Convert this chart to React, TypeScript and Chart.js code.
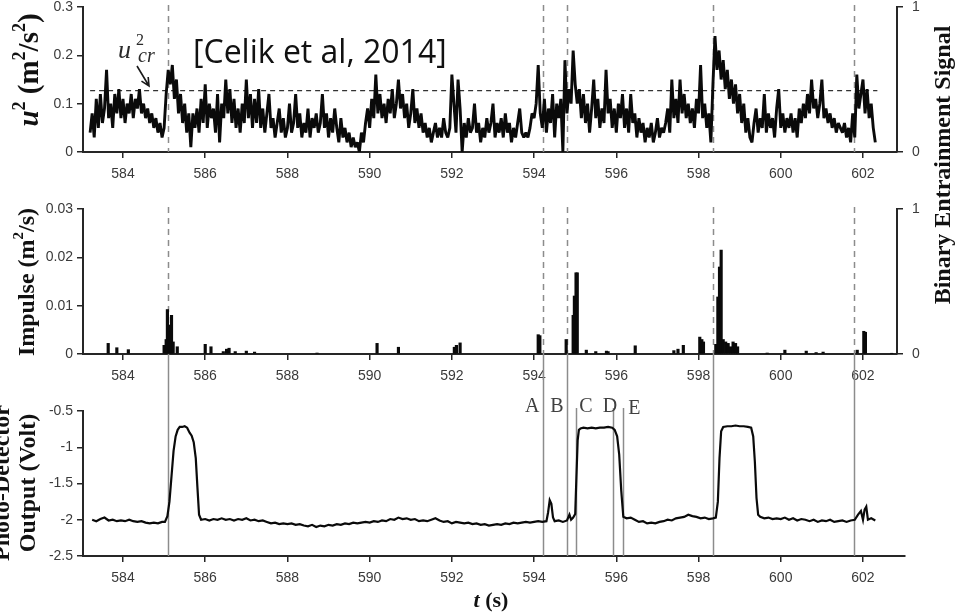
import React, { useEffect, useRef } from "react";
import { Chart, registerables } from "chart.js";

Chart.register(...registerables);

// ---------------- data ----------------
const T_TICKS = [584, 586, 588, 590, 592, 594, 596, 598, 600, 602];
const U2_TICKS = [0, 0.1, 0.2, 0.3];
const IMPULSE_TICKS = [0, 0.01, 0.02, 0.03];
const VOLT_TICKS = [-2.5, -2, -1.5, -1, -0.5];
const BINARY_TICKS = [0, 1];

// squared near-bed velocity, sampled every 0.05 s from 583.2 s
const U2_START = 583.2;
const U2_STEP = 0.05;
const U2_VALUES = [
  0.04, 0.08, 0.03, 0.11, 0.05, 0.12, 0.06, 0.09, 0.17, 0.07, 0.10, 0.05, 0.12, 0.08, 0.13, 0.07, 0.11, 0.06, 0.10, 0.08,
  0.12, 0.07, 0.11, 0.09, 0.13, 0.08, 0.10, 0.07, 0.09, 0.06, 0.08, 0.05, 0.07, 0.04, 0.06, 0.03, 0.05, 0.12, 0.17, 0.14,
  0.18, 0.11, 0.15, 0.08, 0.12, 0.06, 0.10, 0.04, 0.08, 0.01, 0.08, 0.05, 0.09, 0.04, 0.11, 0.06, 0.14, 0.05, 0.10, 0.07,
  0.09, 0.04, 0.12, 0.02, 0.10, 0.07, 0.15, 0.08, 0.13, 0.06, 0.11, 0.05, 0.09, 0.04, 0.10, 0.06, 0.15, 0.07, 0.12, 0.05,
  0.11, 0.06, 0.13, 0.05, 0.09, 0.04, 0.08, 0.12, 0.05, 0.07, 0.03, 0.06, 0.09, 0.04, 0.07, 0.03, 0.05, 0.10, 0.04, 0.06,
  0.12, 0.05, 0.08, 0.03, 0.06, 0.04, 0.09, 0.03, 0.07, 0.05, 0.08, 0.04, 0.06, 0.12, 0.05, 0.08, 0.03, 0.07, 0.04, 0.09,
  0.05, 0.02, 0.07, 0.03, 0.05, 0.02, 0.04, 0.01, 0.03, 0.01, 0.02, 0.00, 0.04, 0.02, 0.06, 0.09, 0.05, 0.11, 0.07, 0.16,
  0.08, 0.12, 0.07, 0.10, 0.06, 0.11, 0.08, 0.13, 0.07, 0.10, 0.15, 0.09, 0.12, 0.07, 0.10, 0.05, 0.08, 0.13, 0.06, 0.09,
  0.05, 0.08, 0.04, 0.06, 0.03, 0.05, 0.02, 0.04, 0.06, 0.03, 0.05, 0.03, 0.07, 0.04, 0.03, 0.05, 0.16, 0.10, 0.04, 0.15,
  0.09, 0.00, 0.06, 0.03, 0.07, 0.04, 0.05, 0.10, 0.04, 0.06, 0.02, 0.05, 0.03, 0.07, 0.04, 0.06, 0.10, 0.03, 0.06, 0.04,
  0.07, 0.03, 0.08, 0.04, 0.06, 0.02, 0.05, 0.03, 0.06, 0.09, 0.04, 0.03, 0.04, 0.03, 0.05, 0.08, 0.07, 0.10, 0.18, 0.08,
  0.05, 0.11, 0.04, 0.09, 0.06, 0.12, 0.03, 0.10, 0.07, 0.11, 0.00, 0.19, 0.08, 0.13, 0.10, 0.21, 0.14, 0.10, 0.13, 0.07,
  0.12, 0.06, 0.10, 0.04, 0.09, 0.15, 0.07, 0.11, 0.05, 0.09, 0.06, 0.17, 0.08, 0.11, 0.05, 0.09, 0.04, 0.10, 0.07, 0.12,
  0.05, 0.09, 0.04, 0.12, 0.06, 0.08, 0.03, 0.07, 0.04, 0.06, 0.02, 0.05, 0.03, 0.06, 0.02, 0.04, 0.07, 0.03, 0.05, 0.04,
  0.06, 0.09, 0.04, 0.15, 0.07, 0.11, 0.06, 0.15, 0.08, 0.12, 0.07, 0.10, 0.06, 0.09, 0.05, 0.11, 0.08, 0.18, 0.07, 0.10,
  0.05, 0.08, 0.02, 0.14, 0.24, 0.17, 0.21, 0.15, 0.19, 0.13, 0.17, 0.11, 0.15, 0.10, 0.14, 0.08, 0.12, 0.06, 0.10, 0.04,
  0.07, 0.03, 0.02, 0.06, 0.09, 0.04, 0.07, 0.05, 0.12, 0.04, 0.08, 0.05, 0.07, 0.03, 0.09, 0.13, 0.05, 0.08, 0.04, 0.07,
  0.05, 0.08, 0.04, 0.07, 0.03, 0.09, 0.06, 0.10, 0.07, 0.12, 0.08, 0.15, 0.09, 0.11, 0.07, 0.10, 0.15, 0.07, 0.09, 0.06,
  0.08, 0.05, 0.07, 0.04, 0.06, 0.05, 0.04, 0.06, 0.03, 0.05, 0.02, 0.08, 0.03, 0.16, 0.09, 0.12, 0.15, 0.08, 0.13, 0.07,
  0.10, 0.05, 0.02,
];
const U2_CRITICAL = 0.127;

// impulse above the critical level: [time (s), impulse (m^2/s)]
const IMPULSE: [number, number][] = [
  [583.64, 0.0022], [583.85, 0.0013], [584.13, 0.0009],
  [585.0, 0.0018], [585.05, 0.003], [585.08, 0.0092], [585.11, 0.006], [585.14, 0.0045],
  [585.18, 0.008], [585.22, 0.0025], [585.32, 0.0015],
  [586.0, 0.002], [586.14, 0.0015], [586.44, 0.0005], [586.52, 0.001], [586.58, 0.0012],
  [586.73, 0.0005], [587.0, 0.0006], [587.2, 0.0004], [588.72, 0.0002],
  [590.18, 0.0022], [590.7, 0.0014], [592.06, 0.0014], [592.11, 0.0018], [592.2, 0.0023],
  [594.1, 0.004], [594.14, 0.0038], [594.78, 0.003],
  [594.95, 0.008], [594.98, 0.012], [595.02, 0.0168], [595.05, 0.0168],
  [595.27, 0.0008], [595.5, 0.0005], [595.76, 0.0006], [595.8, 0.0005], [596.46, 0.0017],
  [597.4, 0.0007], [597.5, 0.001], [597.63, 0.0018],
  [598.03, 0.0035], [598.08, 0.003], [598.12, 0.0025],
  [598.42, 0.002], [598.47, 0.0118], [598.51, 0.018], [598.55, 0.0215], [598.6, 0.003],
  [598.66, 0.0025], [598.72, 0.0022], [598.78, 0.0015], [598.84, 0.0025], [598.9, 0.0022], [598.95, 0.0015],
  [599.67, 0.0002], [600.1, 0.0008], [600.62, 0.0006], [600.86, 0.0003], [601.03, 0.0004],
  [601.86, 0.0008], [602.02, 0.0047], [602.06, 0.0045], [602.7, 0.0001],
];

// photo-detector output: [time (s), volt]
const PHOTO_DETECTOR: [number, number][] = [
  [583.25, -2.0], [583.35, -2.02], [583.45, -1.99], [583.55, -1.97], [583.65, -2.01], [583.75, -2.0],
  [583.85, -2.02], [583.95, -2.01], [584.05, -2.02], [584.15, -2.0], [584.25, -2.02], [584.35, -2.03],
  [584.45, -2.02], [584.55, -2.04], [584.65, -2.05], [584.75, -2.04], [584.85, -2.05], [584.95, -2.03],
  [585.02, -2.03], [585.08, -1.95], [585.13, -1.75], [585.18, -1.4], [585.23, -1.05], [585.28, -0.85],
  [585.33, -0.76], [585.38, -0.72], [585.44, -0.72], [585.5, -0.71], [585.56, -0.73], [585.62, -0.8],
  [585.67, -0.84], [585.72, -0.93], [585.77, -1.15], [585.81, -1.55], [585.85, -1.93], [585.9, -2.0],
  [586.0, -1.99], [586.1, -2.01], [586.2, -1.99], [586.3, -2.0], [586.4, -1.98], [586.5, -2.0],
  [586.6, -1.99], [586.7, -2.01], [586.8, -1.99], [586.9, -2.0], [587.0, -1.98], [587.1, -2.01],
  [587.2, -2.0], [587.3, -2.02], [587.4, -2.01], [587.5, -2.03], [587.6, -2.05], [587.7, -2.04],
  [587.8, -2.06], [587.9, -2.05], [588.0, -2.06], [588.1, -2.05], [588.2, -2.07], [588.3, -2.06],
  [588.4, -2.08], [588.5, -2.09], [588.6, -2.07], [588.7, -2.1], [588.8, -2.08], [588.9, -2.09],
  [589.0, -2.07], [589.1, -2.08], [589.2, -2.06], [589.3, -2.07], [589.4, -2.05], [589.5, -2.06],
  [589.6, -2.04], [589.7, -2.05], [589.8, -2.04], [589.9, -2.03], [590.0, -2.04], [590.1, -2.02],
  [590.2, -2.03], [590.3, -2.01], [590.4, -2.02], [590.5, -1.99], [590.6, -2.0], [590.7, -1.97],
  [590.8, -1.99], [590.9, -1.98], [591.0, -2.0], [591.1, -1.99], [591.2, -2.02], [591.3, -2.01],
  [591.4, -2.02], [591.5, -2.0], [591.6, -1.98], [591.7, -2.01], [591.8, -2.03], [591.9, -2.02],
  [592.0, -2.05], [592.1, -2.03], [592.2, -2.04], [592.3, -2.05], [592.4, -2.04], [592.5, -2.06],
  [592.6, -2.05], [592.7, -2.07], [592.8, -2.06], [592.9, -2.08], [593.0, -2.07], [593.1, -2.06],
  [593.2, -2.07], [593.3, -2.05], [593.4, -2.06], [593.5, -2.04], [593.6, -2.05], [593.7, -2.04],
  [593.8, -2.03], [593.9, -2.04], [594.0, -2.03], [594.1, -2.02], [594.2, -2.03], [594.3, -2.02],
  [594.34, -1.9], [594.38, -1.73], [594.42, -1.78], [594.46, -1.97], [594.5, -2.02], [594.6, -2.01],
  [594.7, -2.03], [594.8, -2.01], [594.86, -1.93], [594.9, -2.0], [594.95, -1.97], [595.0, -1.92],
  [595.03, -1.4], [595.06, -0.9], [595.09, -0.76], [595.13, -0.74], [595.2, -0.73], [595.3, -0.74],
  [595.4, -0.73], [595.5, -0.74], [595.6, -0.73], [595.7, -0.73], [595.8, -0.72], [595.9, -0.73],
  [595.96, -0.76], [596.02, -0.85], [596.07, -1.1], [596.12, -1.6], [596.17, -1.96], [596.25, -1.98],
  [596.35, -1.97], [596.45, -2.0], [596.55, -2.03], [596.65, -2.02], [596.75, -2.05], [596.85, -2.04],
  [596.95, -2.05], [597.05, -2.03], [597.15, -2.02], [597.25, -2.0], [597.35, -2.01], [597.45, -1.98],
  [597.55, -1.97], [597.65, -1.96], [597.75, -1.93], [597.85, -1.95], [597.95, -1.96], [598.05, -1.98],
  [598.15, -1.97], [598.25, -1.99], [598.35, -1.98], [598.42, -1.97], [598.47, -1.75], [598.51, -1.15],
  [598.55, -0.78], [598.6, -0.72], [598.7, -0.71], [598.8, -0.71], [598.9, -0.7], [599.0, -0.71],
  [599.1, -0.71], [599.2, -0.72], [599.28, -0.73], [599.33, -0.85], [599.37, -1.2], [599.41, -1.7],
  [599.45, -1.93], [599.5, -1.96], [599.6, -1.98], [599.7, -1.97], [599.8, -1.99], [599.9, -1.98],
  [600.0, -1.99], [600.1, -1.97], [600.2, -2.0], [600.3, -1.98], [600.4, -2.01], [600.5, -1.99],
  [600.6, -2.0], [600.7, -2.02], [600.8, -2.0], [600.9, -2.03], [601.0, -2.01], [601.1, -2.02],
  [601.2, -2.0], [601.3, -2.03], [601.4, -2.02], [601.5, -2.01], [601.6, -2.03], [601.7, -2.01],
  [601.8, -2.0], [601.88, -1.93], [601.95, -1.88], [602.0, -2.0], [602.04, -1.86], [602.08, -1.82],
  [602.12, -2.0], [602.2, -1.98], [602.3, -2.01],
];

// binary entrainment onsets and the stages of the second event
const ENTRAINMENT_EVENTS = [585.1, 594.22, 594.8, 598.34, 601.77];
const PHASE_NAMES = ["A", "B", "C", "D", "E"];
const PHASE_TIMES = [594.22, 594.8, 595.02, 595.92, 596.17];

// ---------------- layout ----------------
const PAGE_W = 960;
const PAGE_H = 616;
const SHIFT = 20; // canvases start above the page so the top tick label has room
const CANVAS_H = PAGE_H + SHIFT + 4;
const PLOT_LEFT = 83;
const PLOT_RIGHT = 897;
const PLOT_RIGHT_PHOTO = 905;
const PX_PER_SECOND = 41.11;
const T_MIN = 583.027;
const X_AXIS_H = 34;
const PANEL_H = 145;
const TOP_U2 = 7;
const TOP_IMPULSE = 209;
const TOP_PHOTO = 411;
const PHASE_LABEL_DX = [-11, -10, 10, -3, 11];
const PHASE_LINE_TOP = 408;

const SERIF = '"Liberation Serif", "Times New Roman", serif';
const SANS = '"Liberation Sans", Arial, sans-serif';
const AXIS = "#262626";
const TICK_TEXT = "#3a3a3a";
const MARK_GREY = "#8c8c8c";

type Run = { text: string; font: string; rise?: number };

function drawRuns(ctx: CanvasRenderingContext2D, runs: Run[], x: number, y: number, rotate: boolean, color = "#111") {
  ctx.save();
  ctx.translate(x, y);
  if (rotate) ctx.rotate(-Math.PI / 2);
  ctx.textBaseline = "alphabetic";
  ctx.textAlign = "left";
  ctx.fillStyle = color;
  let total = 0;
  for (const r of runs) {
    ctx.font = r.font;
    total += ctx.measureText(r.text).width;
  }
  let cx = -total / 2;
  for (const r of runs) {
    ctx.font = r.font;
    ctx.fillText(r.text, cx, -(r.rise || 0));
    cx += ctx.measureText(r.text).width;
  }
  ctx.restore();
}

const tickList = (values: number[]) => (scale: any) => {
  scale.ticks = values.map((v) => ({ value: v }));
};

function xAxis(right: number) {
  return {
    type: "linear",
    min: T_MIN,
    max: T_MIN + (right - PLOT_LEFT) / PX_PER_SECOND,
    offset: false,
    afterBuildTicks: tickList(T_TICKS),
    afterFit: (s: any) => {
      s.height = X_AXIS_H;
    },
    grid: { drawOnChartArea: false, drawTicks: true, tickLength: 6, color: AXIS, lineWidth: 1.5, offset: false },
    border: { display: true, color: AXIS, width: 2 },
    ticks: { font: { family: SANS, size: 14 }, color: TICK_TEXT, padding: 8, maxRotation: 0, autoSkip: false, callback: (v: any) => String(v) },
  };
}

function yAxis(position: "left" | "right", min: number, max: number, values: number[]) {
  return {
    type: "linear",
    position,
    min,
    max,
    afterBuildTicks: tickList(values),
    afterFit: (s: any) => {
      s.width = position === "left" ? PLOT_LEFT : PAGE_W - PLOT_RIGHT;
    },
    grid: { drawOnChartArea: false, drawTicks: true, tickLength: 6, color: AXIS, lineWidth: 1.5 },
    border: { display: true, color: AXIS, width: 2 },
    ticks: { font: { family: SANS, size: 14 }, color: TICK_TEXT, padding: position === "left" ? 4 : 9, autoSkip: false, callback: (v: any) => String(v) },
  };
}

function padding(top: number, right: number) {
  const canvasTop = top + SHIFT;
  return {
    top: canvasTop,
    left: 0,
    right: right === PLOT_RIGHT ? 0 : PAGE_W - right,
    bottom: CANVAS_H - (canvasTop + PANEL_H) - X_AXIS_H,
  };
}

const baseOptions = {
  responsive: false,
  animation: false,
  devicePixelRatio: 1,
  events: [],
  plugins: { legend: { display: false }, tooltip: { enabled: false } },
};

// dashed markers of the entrainment onsets inside a panel
const dashedEvents = {
  id: "dashedEvents",
  beforeDatasetsDraw(chart: any) {
    const { ctx, chartArea, scales } = chart;
    ctx.save();
    ctx.strokeStyle = MARK_GREY;
    ctx.lineWidth = 1.5;
    ctx.setLineDash([6, 5]);
    for (const t of ENTRAINMENT_EVENTS) {
      const x = Math.round(scales.x.getPixelForValue(t)) + 0.5;
      ctx.beginPath();
      ctx.moveTo(x, chartArea.top - 2);
      ctx.lineTo(x, chartArea.bottom);
      ctx.stroke();
    }
    ctx.restore();
  },
};

const u2Texts = {
  id: "u2Texts",
  afterDraw(chart: any) {
    const ctx = chart.ctx as CanvasRenderingContext2D;
    // left axis title
    drawRuns(
      ctx,
      [
        { text: "u", font: `italic bold 29px ${SERIF}` },
        { text: "2", font: `bold 18px ${SERIF}`, rise: 13 },
        { text: " (m", font: `bold 29px ${SERIF}` },
        { text: "2", font: `bold 18px ${SERIF}`, rise: 13 },
        { text: "/s", font: `bold 29px ${SERIF}` },
        { text: "2", font: `bold 18px ${SERIF}`, rise: 13 },
        { text: ")", font: `bold 29px ${SERIF}` },
      ],
      38,
      70 + SHIFT,
      true
    );
    // right axis title shared by the two upper panels
    drawRuns(ctx, [{ text: "Binary Entrainment Signal", font: `bold 24px ${SERIF}` }], 950, 165 + SHIFT, true);
    // citation
    ctx.save();
    ctx.font = `32px "Open Sans", ${SANS}`;
    ctx.fillStyle = "#111";
    ctx.textBaseline = "alphabetic";
    ctx.fillText("[Celik et al, 2014]", 193, 63 + SHIFT);
    // critical level label with arrow
    ctx.fillStyle = "#2a2a2a";
    ctx.font = `italic 26px ${SERIF}`;
    ctx.fillText("u", 118, 58 + SHIFT);
    ctx.font = `16px ${SERIF}`;
    ctx.fillText("2", 136, 45 + SHIFT);
    ctx.font = `italic 20px ${SERIF}`;
    ctx.fillText("cr", 138, 62 + SHIFT);
    const x0 = 137, y0 = 66 + SHIFT, x1 = 149, y1 = 86 + SHIFT;
    const a = Math.atan2(y1 - y0, x1 - x0);
    ctx.strokeStyle = "#1a1a1a";
    ctx.lineWidth = 1.6;
    ctx.beginPath();
    ctx.moveTo(x0, y0);
    ctx.lineTo(x1, y1);
    ctx.moveTo(x1 - 9 * Math.cos(a - 0.45), y1 - 9 * Math.sin(a - 0.45));
    ctx.lineTo(x1, y1);
    ctx.lineTo(x1 - 9 * Math.cos(a + 0.45), y1 - 9 * Math.sin(a + 0.45));
    ctx.stroke();
    ctx.restore();
  },
};

const impulseTexts = {
  id: "impulseTexts",
  afterDraw(chart: any) {
    drawRuns(
      chart.ctx,
      [
        { text: "Impulse (m", font: `bold 24px ${SERIF}` },
        { text: "2", font: `bold 15px ${SERIF}`, rise: 11 },
        { text: "/s)", font: `bold 24px ${SERIF}` },
      ],
      34,
      282 + SHIFT,
      true
    );
  },
};

const photoExtras = {
  id: "photoExtras",
  beforeDatasetsDraw(chart: any) {
    const { ctx, chartArea, scales } = chart;
    ctx.save();
    ctx.strokeStyle = MARK_GREY;
    ctx.lineWidth = 1.5;
    const fromImpulseAxis = TOP_IMPULSE + PANEL_H + SHIFT;
    for (const t of ENTRAINMENT_EVENTS) {
      const x = Math.round(scales.x.getPixelForValue(t)) + 0.5;
      ctx.beginPath();
      ctx.moveTo(x, fromImpulseAxis);
      ctx.lineTo(x, chartArea.bottom);
      ctx.stroke();
    }
    for (const t of PHASE_TIMES.slice(2)) {
      const x = Math.round(scales.x.getPixelForValue(t)) + 0.5;
      ctx.beginPath();
      ctx.moveTo(x, PHASE_LINE_TOP + SHIFT);
      ctx.lineTo(x, chartArea.bottom);
      ctx.stroke();
    }
    ctx.restore();
  },
  afterDraw(chart: any) {
    const { ctx, scales } = chart;
    ctx.save();
    ctx.fillStyle = "#404040";
    ctx.font = `20px ${SERIF}`;
    ctx.textAlign = "center";
    ctx.textBaseline = "alphabetic";
    PHASE_NAMES.forEach((name, i) => {
      const x = scales.x.getPixelForValue(PHASE_TIMES[i]) + PHASE_LABEL_DX[i];
      ctx.fillText(name, x, (i === 4 ? 414 : 412) + SHIFT);
    });
    ctx.restore();
    drawRuns(ctx, [{ text: "Photo-Detector", font: `bold 24px ${SERIF}` }], 9, 483 + SHIFT, true);
    drawRuns(ctx, [{ text: "Output (Volt)", font: `bold 24px ${SERIF}` }], 35, 483 + SHIFT, true);
    drawRuns(
      ctx,
      [
        { text: "t", font: `italic bold 22px ${SERIF}` },
        { text: " (s)", font: `bold 22px ${SERIF}` },
      ],
      491,
      607 + SHIFT,
      false
    );
  },
};

function u2Config(): any {
  const u2End = U2_START + (U2_VALUES.length - 1) * U2_STEP;
  return {
    type: "line",
    data: {
      datasets: [
        {
          data: U2_VALUES.map((v, i) => ({ x: U2_START + i * U2_STEP, y: v })),
          borderColor: "#0a0a0a",
          borderWidth: 2.9,
          borderJoinStyle: "bevel",
          pointRadius: 0,
          tension: 0,
          yAxisID: "y",
        },
        {
          data: [
            { x: U2_START, y: U2_CRITICAL },
            { x: u2End + 0.05, y: U2_CRITICAL },
          ],
          borderColor: "#333",
          borderWidth: 1.2,
          borderDash: [5, 4],
          pointRadius: 0,
          yAxisID: "y",
        },
      ],
    },
    options: {
      ...baseOptions,
      layout: { padding: padding(TOP_U2, PLOT_RIGHT) },
      scales: {
        x: xAxis(PLOT_RIGHT),
        y: yAxis("left", 0, 0.3, U2_TICKS),
        y2: yAxis("right", 0, 1, BINARY_TICKS),
      },
    },
    plugins: [dashedEvents, u2Texts],
  };
}

function impulseConfig(): any {
  return {
    type: "bar",
    data: {
      datasets: [
        {
          data: IMPULSE.map(([t, v]) => ({ x: t, y: v })),
          backgroundColor: "#0a0a0a",
          borderWidth: 0,
          barThickness: 2.5,
          yAxisID: "y",
        },
      ],
    },
    options: {
      ...baseOptions,
      layout: { padding: padding(TOP_IMPULSE, PLOT_RIGHT) },
      scales: {
        x: xAxis(PLOT_RIGHT),
        y: yAxis("left", 0, 0.03, IMPULSE_TICKS),
        y2: yAxis("right", 0, 1, BINARY_TICKS),
      },
    },
    plugins: [dashedEvents, impulseTexts],
  };
}

function photoConfig(): any {
  return {
    type: "line",
    data: {
      datasets: [
        {
          data: PHOTO_DETECTOR.map(([t, v]) => ({ x: t, y: v })),
          borderColor: "#0a0a0a",
          borderWidth: 2.2,
          pointRadius: 0,
          tension: 0,
        },
      ],
    },
    options: {
      ...baseOptions,
      layout: { padding: padding(TOP_PHOTO, PLOT_RIGHT_PHOTO) },
      scales: {
        x: xAxis(PLOT_RIGHT_PHOTO),
        y: yAxis("left", -2.5, -0.5, VOLT_TICKS),
      },
    },
    plugins: [photoExtras],
  };
}

export default function App() {
  const u2Ref = useRef<HTMLCanvasElement>(null);
  const impulseRef = useRef<HTMLCanvasElement>(null);
  const photoRef = useRef<HTMLCanvasElement>(null);

  useEffect(() => {
    const charts = [
      new Chart(u2Ref.current as HTMLCanvasElement, u2Config()),
      new Chart(impulseRef.current as HTMLCanvasElement, impulseConfig()),
      new Chart(photoRef.current as HTMLCanvasElement, photoConfig()),
    ];
    return () => charts.forEach((c) => c.destroy());
  }, []);

  const canvasStyle: React.CSSProperties = { position: "absolute", left: 0, top: 0, width: PAGE_W, height: CANVAS_H };
  return (
    <div style={{ position: "fixed", left: 0, top: -SHIFT, width: PAGE_W, height: CANVAS_H, background: "#fff" }}>
      <canvas ref={u2Ref} width={PAGE_W} height={CANVAS_H} style={canvasStyle} />
      <canvas ref={impulseRef} width={PAGE_W} height={CANVAS_H} style={canvasStyle} />
      <canvas ref={photoRef} width={PAGE_W} height={CANVAS_H} style={canvasStyle} />
    </div>
  );
}
